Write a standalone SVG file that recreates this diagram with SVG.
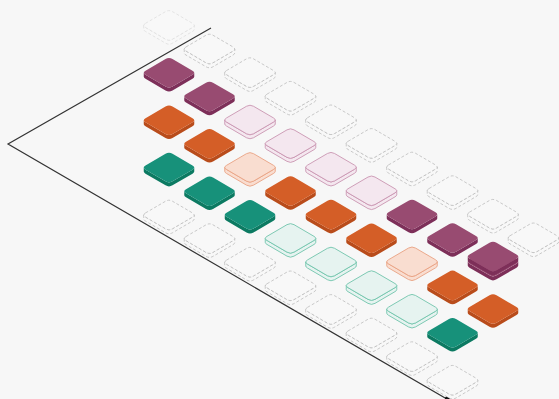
<svg xmlns="http://www.w3.org/2000/svg" xmlns:xlink="http://www.w3.org/1999/xlink" width="559" height="399" viewBox="0 0 559 399">
<style>
.bg{fill:#f7f7f7}
.axis{fill:none;stroke:#333;stroke-width:1.2}
.s{fill:var(--sf);stroke:var(--sc,none);stroke-width:var(--sw,0);stroke-dasharray:var(--dash,none)}
.t{fill:var(--tf);stroke:var(--sc,none);stroke-width:var(--sw,0);stroke-dasharray:var(--dash,none)}
.pu,.st{--sf:#7d2f59;--tf:#984b71}
.or{--sf:#b94c1b;--tf:#d45e27}
.gr{--sf:#0c7a62;--tf:#17917a}
.pk{--sf:#f4e7ef;--tf:#f4e7ef;--sc:#c995b1;--sw:0.9px}
.pe{--sf:#f9ddd0;--tf:#f9ddd0;--sc:#e9a182;--sw:0.9px}
.mi{--sf:#e6f3f0;--tf:#e6f3f0;--sc:#70c4ac;--sw:0.9px}
.da{--sf:#f8f8f8;--tf:#f8f8f8;--sc:#bcbcbc;--sw:0.8px;--dash:3 2}
.fa{--sf:#f8f8f8;--tf:#f8f8f8;--sc:#dedede;--sw:0.8px;--dash:3 2}
</style>
<defs>
<g id="tile">
<path class="s" d="M -25.25,0 L -25.25,4 Q -25.25,5.03 -23.5,6.05 L -3.5,17.75 Q 0,19.8 3.5,17.75 L 23.5,6.05 Q 25.25,5.03 25.25,4 L 25.25,0 Q 25.25,1.03 23.5,2.05 L 3.5,13.75 Q 0,15.8 -3.5,13.75 L -23.5,2.05 Q -25.25,1.03 -25.25,0 Z"/>
<path class="t" d="M -23.5,-2.05 L -3.5,-13.75 Q 0,-15.8 3.5,-13.75 L 23.5,-2.05 Q 27,0 23.5,2.05 L 3.5,13.75 Q 0,15.8 -3.5,13.75 L -23.5,2.05 Q -27,0 -23.5,-2.05 Z"/>
</g>
<marker id="arrow" viewBox="0 0 10 10" refX="9" refY="5" markerWidth="9" markerHeight="9" markerUnits="userSpaceOnUse" orient="auto">
<path d="M0,0 L10,5 L0,10 Z" fill="#111"/>
</marker>
</defs>
<rect class="bg" width="559" height="399"/>
<g id="connectors">
<polyline class="axis" points="211,28 8,144 452,402" marker-end="url(#arrow)"/>
</g>
<g id="tiles">
<g id="t0-0" class="fa"><use xlink:href="#tile" x="169" y="25.4"/></g>
<g id="t1-0" class="da"><use xlink:href="#tile" x="209.5" y="49"/></g>
<g id="t1-1" class="pu"><use xlink:href="#tile" x="169" y="72.8"/></g>
<g id="t2-0" class="da"><use xlink:href="#tile" x="250" y="72.6"/></g>
<g id="t2-1" class="pu"><use xlink:href="#tile" x="209.5" y="96.4"/></g>
<g id="t3-0" class="da"><use xlink:href="#tile" x="290.5" y="96.2"/></g>
<g id="t2-2" class="or"><use xlink:href="#tile" x="169" y="120.2"/></g>
<g id="t3-1" class="pk"><use xlink:href="#tile" x="250" y="120"/></g>
<g id="t4-0" class="da"><use xlink:href="#tile" x="331" y="119.8"/></g>
<g id="t3-2" class="or"><use xlink:href="#tile" x="209.5" y="143.8"/></g>
<g id="t4-1" class="pk"><use xlink:href="#tile" x="290.5" y="143.6"/></g>
<g id="t5-0" class="da"><use xlink:href="#tile" x="371.5" y="143.4"/></g>
<g id="t3-3" class="gr"><use xlink:href="#tile" x="169" y="167.6"/></g>
<g id="t4-2" class="pe"><use xlink:href="#tile" x="250" y="167.4"/></g>
<g id="t5-1" class="pk"><use xlink:href="#tile" x="331" y="167.2"/></g>
<g id="t6-0" class="da"><use xlink:href="#tile" x="412" y="167"/></g>
<g id="t4-3" class="gr"><use xlink:href="#tile" x="209.5" y="191.2"/></g>
<g id="t5-2" class="or"><use xlink:href="#tile" x="290.5" y="191"/></g>
<g id="t6-1" class="pk"><use xlink:href="#tile" x="371.5" y="190.8"/></g>
<g id="t7-0" class="da"><use xlink:href="#tile" x="452.5" y="190.6"/></g>
<g id="t4-4" class="da"><use xlink:href="#tile" x="169" y="215"/></g>
<g id="t5-3" class="gr"><use xlink:href="#tile" x="250" y="214.8"/></g>
<g id="t6-2" class="or"><use xlink:href="#tile" x="331" y="214.6"/></g>
<g id="t7-1" class="pu"><use xlink:href="#tile" x="412" y="214.4"/></g>
<g id="t8-0" class="da"><use xlink:href="#tile" x="493" y="214.2"/></g>
<g id="t5-4" class="da"><use xlink:href="#tile" x="209.5" y="238.6"/></g>
<g id="t6-3" class="mi"><use xlink:href="#tile" x="290.5" y="238.4"/></g>
<g id="t7-2" class="or"><use xlink:href="#tile" x="371.5" y="238.2"/></g>
<g id="t8-1" class="pu"><use xlink:href="#tile" x="452.5" y="238"/></g>
<g id="t9-0" class="da"><use xlink:href="#tile" x="533.5" y="237.8"/></g>
<g id="t6-4" class="da"><use xlink:href="#tile" x="250" y="262.2"/></g>
<g id="t7-3" class="mi"><use xlink:href="#tile" x="331" y="262"/></g>
<g id="t8-2" class="pe"><use xlink:href="#tile" x="412" y="261.8"/></g>
<g id="t9-1" class="st"><use xlink:href="#tile" x="493" y="261.6"/><use xlink:href="#tile" x="493" y="256.6"/></g>
<g id="t7-4" class="da"><use xlink:href="#tile" x="290.5" y="285.8"/></g>
<g id="t8-3" class="mi"><use xlink:href="#tile" x="371.5" y="285.6"/></g>
<g id="t9-2" class="or"><use xlink:href="#tile" x="452.5" y="285.4"/></g>
<g id="t8-4" class="da"><use xlink:href="#tile" x="331" y="309.4"/></g>
<g id="t9-3" class="mi"><use xlink:href="#tile" x="412" y="309.2"/></g>
<g id="t10-2" class="or"><use xlink:href="#tile" x="493" y="309"/></g>
<g id="t9-4" class="da"><use xlink:href="#tile" x="371.5" y="333"/></g>
<g id="t10-3" class="gr"><use xlink:href="#tile" x="452.5" y="332.8"/></g>
<g id="t10-4" class="da"><use xlink:href="#tile" x="412" y="356.6"/></g>
<g id="t11-4" class="da"><use xlink:href="#tile" x="452.5" y="380.2"/></g>
</g>
</svg>
